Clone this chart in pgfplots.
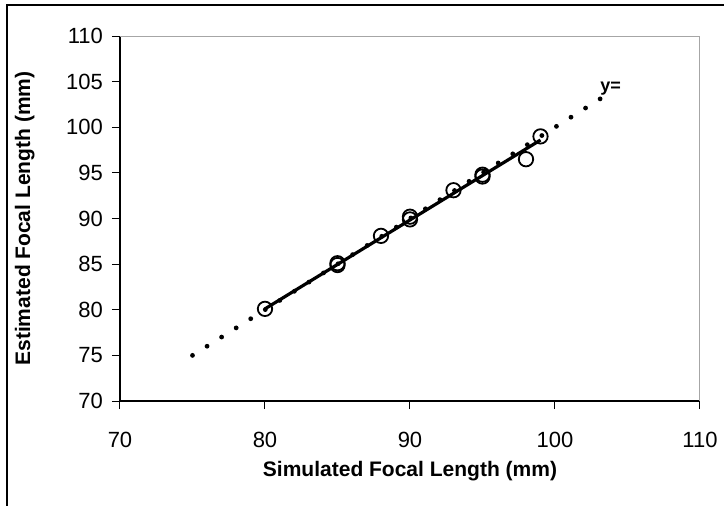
\documentclass[border=0pt]{standalone}
\usepackage{fontspec}
\setmainfont{Liberation Sans}
\usepackage{pgfplots}
\pgfplotsset{compat=1.18}

\begin{document}
\begin{tikzpicture}
\useasboundingbox (0,0) rectangle (362pt,252.5pt);
\clip (0,0) rectangle (362pt,252.5pt);
% outer chart frame (cropped on the right and bottom)
\draw[line width=1pt] (3.5pt,-20pt) -- (3.5pt,250pt) -- (400pt,250pt);
\begin{axis}[
 at={(60pt,52pt)}, anchor=south west,
 scale only axis, width=290pt, height=182.5pt,
 xmin=70, xmax=110, ymin=70, ymax=110,
 xtick={70,80,...,110}, ytick={70,75,...,110},
 axis x line*=bottom, axis y line*=left,
 axis line style={black, line width=0.6pt},
 tick style={black, line width=0.5pt},
 major tick length=4pt,
 tick align=outside,
 tick label style={font=\fontsize{11}{13}\selectfont},
 /pgf/number format/assume math mode=true,
 xticklabel style={yshift=-8pt},
 yticklabel style={xshift=-1pt},
 xlabel={\textbf{Simulated Focal Length (mm)}},
 ylabel={\textbf{Estimated Focal Length (mm)}},
 label style={font=\fontsize{10.5}{12}\selectfont},
 xlabel style={yshift=0pt},
 ylabel style={yshift=9pt},
 clip=false]
\draw[gray!70, line width=0.5pt] (rel axis cs:0,1) -- (rel axis cs:1,1) -- (rel axis cs:1,0);
% y = x reference (dotted)
\addplot[black, line width=2.4pt, line cap=round, dash pattern=on 0pt off 8.6pt] coordinates {(75,75) (103.6,103.6)};
% fitted line
\addplot[black, line width=1.6pt] coordinates {(80,80.1) (99,98.6)};
% estimates
\addplot[only marks, mark=o, mark size=3.6pt, mark options={line width=0.9pt, fill=white, draw=black}] coordinates {
 (80,80.1) (85,85.1) (85,84.9) (88,88.1) (90,90.2) (90,89.9)
 (93,93.1) (95,94.8) (95,94.6) (98,96.5) (99,99.0)};
\node[anchor=south west, inner sep=0pt, font=\bfseries\fontsize{9}{10}\selectfont] at (axis cs:103.1,103.5) {y=};
\end{axis}
\end{tikzpicture}
\end{document}
